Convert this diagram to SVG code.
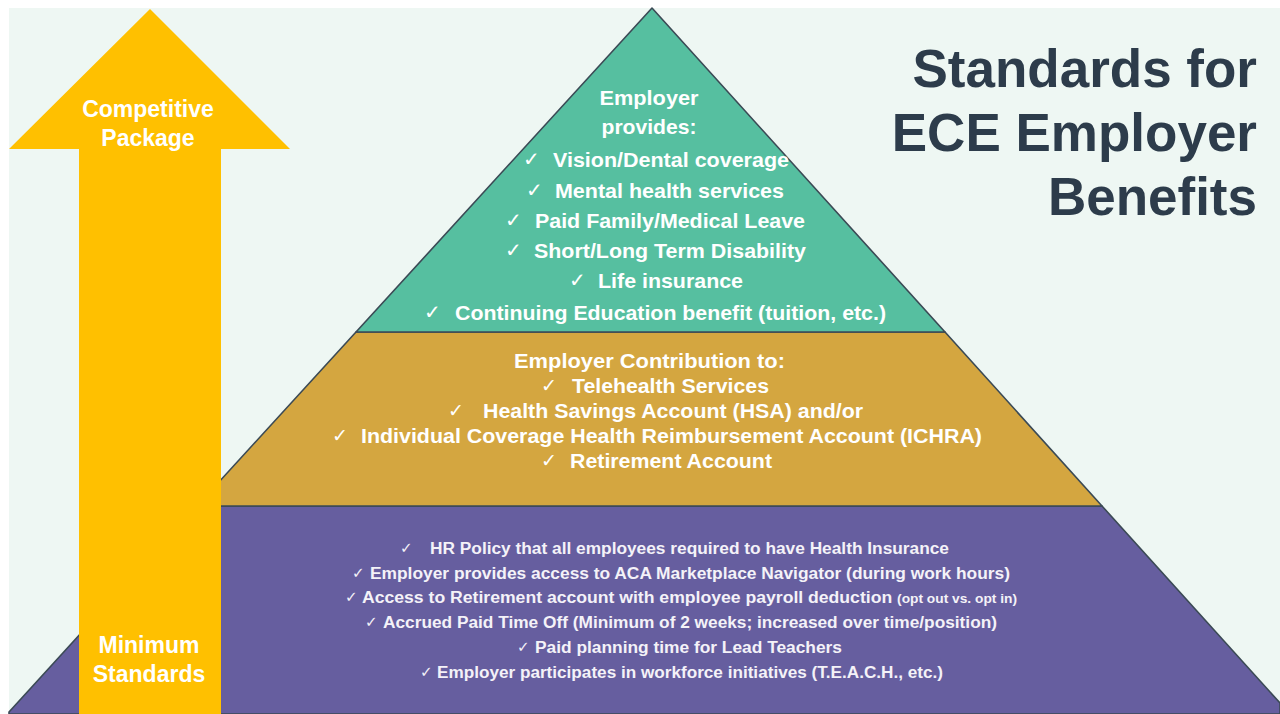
<svg xmlns="http://www.w3.org/2000/svg" width="1280" height="714" viewBox="0 0 1280 714">
  <style>
    .band { stroke: #3b4a55; stroke-width: 1.6; stroke-linejoin: round; }
    .lbl { font-family: "Liberation Sans", Arial, sans-serif; font-weight: bold; fill: #ffffff; }
    .mid { text-anchor: middle; }
    .t1 { font-size: 21px; }
    .t2 { font-size: 20px; }
    .t3 { font-size: 16px; fill: #f4f2f8; }
    .ck { font-family: "DejaVu Sans", sans-serif; font-weight: normal; fill: #ffffff; }
    .c1 { font-size: 20px; }
    .c2 { font-size: 19px; }
    .c3 { font-size: 15px; fill: #f4f2f8; }
    .title { font-family: "Liberation Sans", Arial, sans-serif; font-weight: bold; font-size: 53px; fill: #2d3c4b; text-anchor: end; }
    .arrowlbl { font-family: "Liberation Sans", Arial, sans-serif; font-weight: bold; font-size: 23px; fill: #ffffff; text-anchor: middle; }
  </style>

  <!-- page -->
  <rect x="0" y="0" width="1280" height="714" fill="#ffffff"/>
  <rect x="9" y="8" width="1271" height="706" fill="#eef7f3"/>

  <!-- pyramid tiers -->
  <g id="tier-minimum">
    <polygon class="band" points="197,506 1102,506 1280,703 1280,714 9,714 9,712" fill="#665e9f"/>
  </g>
  <g id="tier-contribution">
    <polygon class="band" points="356,332 945,332 1102,506 197,506" fill="#d4a640"/>
  </g>
  <g id="tier-provides">
    <polygon class="band" points="652,8 945,332 356,332" fill="#56bfa0"/>
  </g>

  <!-- progression arrow -->
  <g id="arrow">
    <polygon points="150,9 290,149 221,149 221,714 79,714 79,149 9,149" fill="#ffc000"/>
    <text class="arrowlbl" x="148" y="117">Competitive</text>
    <text class="arrowlbl" x="148" y="146">Package</text>
    <text class="arrowlbl" x="149" y="653">Minimum</text>
    <text class="arrowlbl" x="149" y="682">Standards</text>
  </g>

  <!-- title -->
  <g id="title">
    <text class="title" x="1257" y="87">Standards for</text>
    <text class="title" x="1257" y="151">ECE Employer</text>
    <text class="title" x="1257" y="215">Benefits</text>
  </g>

  <!-- top tier labels -->
  <g id="provides-text">
    <text class="lbl t1 mid" x="649" y="105" textLength="99" lengthAdjust="spacingAndGlyphs">Employer</text>
    <text class="lbl t1 mid" x="649" y="134" textLength="95" lengthAdjust="spacingAndGlyphs">provides:</text>
    <text class="ck c1" x="523" y="166">✓</text>
    <text class="lbl t1" x="553" y="167" textLength="236" lengthAdjust="spacingAndGlyphs">Vision/Dental coverage</text>
    <text class="ck c1" x="526" y="197">✓</text>
    <text class="lbl t1" x="555" y="198" textLength="229" lengthAdjust="spacingAndGlyphs">Mental health services</text>
    <text class="ck c1" x="505" y="227">✓</text>
    <text class="lbl t1" x="535" y="228" textLength="270" lengthAdjust="spacingAndGlyphs">Paid Family/Medical Leave</text>
    <text class="ck c1" x="505" y="257">✓</text>
    <text class="lbl t1" x="534" y="258" textLength="272" lengthAdjust="spacingAndGlyphs">Short/Long Term Disability</text>
    <text class="ck c1" x="569" y="287">✓</text>
    <text class="lbl t1" x="598" y="288" textLength="145" lengthAdjust="spacingAndGlyphs">Life insurance</text>
    <text class="ck c1" x="424" y="319">✓</text>
    <text class="lbl t1" x="455" y="320" textLength="431" lengthAdjust="spacingAndGlyphs">Continuing Education benefit (tuition, etc.)</text>
  </g>

  <!-- middle tier labels -->
  <g id="contribution-text">
    <text class="lbl t2" x="514" y="368" textLength="271" lengthAdjust="spacingAndGlyphs">Employer  Contribution to:</text>
    <text class="ck c2" x="541" y="392">✓</text>
    <text class="lbl t2" x="572" y="393" textLength="197" lengthAdjust="spacingAndGlyphs">Telehealth Services</text>
    <text class="ck c2" x="448" y="417">✓</text>
    <text class="lbl t2" x="483" y="418" textLength="380" lengthAdjust="spacingAndGlyphs">Health Savings Account (HSA) and/or</text>
    <text class="ck c2" x="332" y="442">✓</text>
    <text class="lbl t2" x="361" y="443" textLength="621" lengthAdjust="spacingAndGlyphs">Individual Coverage Health Reimbursement Account (ICHRA)</text>
    <text class="ck c2" x="541" y="467">✓</text>
    <text class="lbl t2" x="570" y="468" textLength="202" lengthAdjust="spacingAndGlyphs">Retirement Account</text>
  </g>

  <!-- base tier labels -->
  <g id="minimum-text">
    <text class="ck c3" x="400" y="553">✓</text>
    <text class="lbl t3" x="430" y="554" textLength="519" lengthAdjust="spacingAndGlyphs">HR Policy that all employees required to have Health Insurance</text>
    <text class="ck c3" x="352" y="578">✓</text>
    <text class="lbl t3" x="370" y="579" textLength="640" lengthAdjust="spacingAndGlyphs">Employer provides access to ACA Marketplace Navigator (during work hours)</text>
    <text class="ck c3" x="345" y="602">✓</text>
    <text class="lbl t3" x="362" y="603" textLength="655" lengthAdjust="spacingAndGlyphs">Access to Retirement account with employee payroll deduction <tspan font-size="12.5">(opt out vs. opt in)</tspan></text>
    <text class="ck c3" x="365" y="627">✓</text>
    <text class="lbl t3" x="383" y="628" textLength="614" lengthAdjust="spacingAndGlyphs">Accrued Paid Time Off (Minimum of 2 weeks; increased over time/position)</text>
    <text class="ck c3" x="517" y="652">✓</text>
    <text class="lbl t3" x="535" y="653" textLength="307" lengthAdjust="spacingAndGlyphs">Paid planning time for Lead Teachers</text>
    <text class="ck c3" x="420" y="677">✓</text>
    <text class="lbl t3" x="437" y="678" textLength="506" lengthAdjust="spacingAndGlyphs">Employer participates in workforce initiatives  (T.E.A.C.H., etc.)</text>
  </g>
</svg>
